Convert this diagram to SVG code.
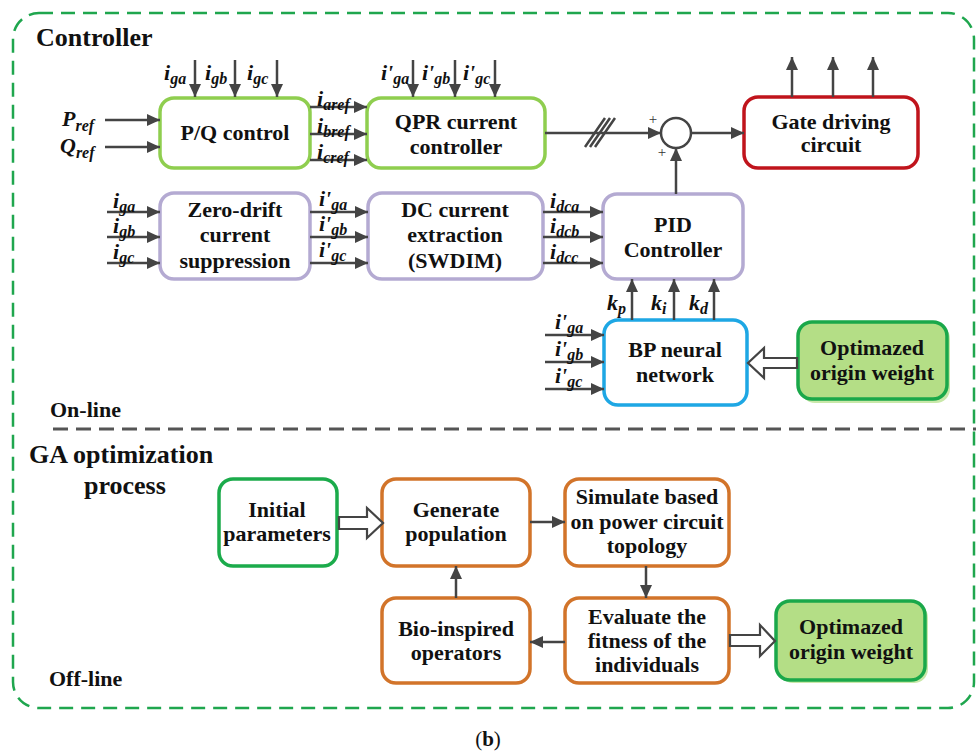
<svg xmlns="http://www.w3.org/2000/svg" width="976" height="753" viewBox="0 0 976 753">
<style>
.t{font-family:"Liberation Serif","Times New Roman",serif;font-weight:bold;font-size:22px;fill:#111;text-anchor:middle}
.h{font-family:"Liberation Serif","Times New Roman",serif;font-weight:bold;font-size:26px;fill:#111}
.s{font-family:"Liberation Serif","Times New Roman",serif;font-weight:bold;font-size:22px;fill:#111}
.m{font-family:"Liberation Serif","Times New Roman",serif;font-weight:bold;font-style:italic;font-size:22px;fill:#111}
.sb{font-size:16px}
.pl{font-family:"Liberation Serif","Times New Roman",serif;font-size:15px;fill:#333;text-anchor:middle}
.cap{font-family:"Liberation Serif","Times New Roman",serif;font-size:21px;fill:#111;text-anchor:middle}
.g{fill:#fff;stroke:#8fce4f;stroke-width:3.5}
.p{fill:#fff;stroke:#b4aad2;stroke-width:3.5}
.r{fill:#fff;stroke:#c0141c;stroke-width:3.5}
.b{fill:#fff;stroke:#1ea7e4;stroke-width:3.5}
.o{fill:#fff;stroke:#d2742a;stroke-width:3.5}
.dg{fill:#fff;stroke:#1bab4b;stroke-width:3.5}
.w{fill:#b4de86;stroke:#1aa84a;stroke-width:3.5}
.ws{fill:#c9e8a9;stroke:none}
.c line,.c path{stroke:#444;stroke-width:2.5;fill:none}
.c line.a{marker-end:url(#ah)}
.hol{fill:#fff;stroke:#444;stroke-width:2.2;stroke-linejoin:miter}
</style>
<defs>
<marker id="ah" markerUnits="userSpaceOnUse" markerWidth="14" markerHeight="14" refX="13" refY="7" orient="auto">
<path d="M0,1 L13,7 L0,13 Z" fill="#444"/>
</marker>
</defs>
<rect width="976" height="753" fill="#fff"/>
<!-- frames -->
<rect x="13" y="13" width="961" height="695" rx="26" fill="none" stroke="#1fa64e" stroke-width="2.5" stroke-dasharray="14 8"/>
<line x1="53" y1="429" x2="976" y2="429" stroke="#555" stroke-width="3" stroke-dasharray="15 8"/>
<text class="h" x="36" y="46">Controller</text>
<text class="s" x="50" y="417">On-line</text>
<text class="h" x="29" y="463">GA optimization</text>
<text class="h" x="84" y="494">process</text>
<text class="s" x="49" y="686">Off-line</text>
<text class="cap" x="488" y="746">(<tspan font-weight="bold">b</tspan>)</text>

<!-- nodes -->
<g id="pq"><rect class="g" x="160" y="98" width="150" height="70" rx="14"/><text class="t" x="235" y="140">P/Q control</text></g>
<g id="qpr"><rect class="g" x="367" y="98" width="178" height="70" rx="14"/><text class="t" x="456" y="129">QPR current</text><text class="t" x="456" y="154">controller</text></g>
<g id="gate"><rect class="r" x="744" y="97" width="174" height="71" rx="14"/><text class="t" x="831" y="129">Gate driving</text><text class="t" x="831" y="152">circuit</text></g>
<g id="sum"><circle cx="676" cy="133" r="15" fill="#fff" stroke="#444" stroke-width="2.5"/><text class="pl" x="653" y="124">+</text><text class="pl" x="662" y="157">+</text></g>
<g id="zero"><rect class="p" x="160" y="193" width="150" height="86" rx="14"/><text class="t" x="235" y="217">Zero-drift</text><text class="t" x="235" y="242">current</text><text class="t" x="235" y="268">suppression</text></g>
<g id="dc"><rect class="p" x="368" y="193" width="175" height="86" rx="14"/><text class="t" x="455" y="217">DC current</text><text class="t" x="455" y="242">extraction</text><text class="t" x="455" y="268">(SWDIM)</text></g>
<g id="pid"><rect class="p" x="603" y="194" width="140" height="85" rx="14"/><text class="t" x="673" y="232">PID</text><text class="t" x="673" y="257">Controller</text></g>
<g id="bp"><rect class="b" x="604" y="320" width="143" height="85" rx="14"/><text class="t" x="675" y="357">BP neural</text><text class="t" x="675" y="382">network</text></g>
<g id="ow1"><rect class="ws" x="801" y="325" width="149" height="78" rx="14"/><rect class="w" x="798" y="322" width="149" height="77" rx="14"/><text class="t" x="872" y="355">Optimazed</text><text class="t" x="872" y="380">origin weight</text></g>
<g id="init"><rect class="dg" x="219" y="479" width="118" height="87" rx="14"/><text class="t" x="277" y="517">Initial</text><text class="t" x="277" y="541">parameters</text></g>
<g id="gen"><rect class="o" x="382" y="479" width="148" height="87" rx="14"/><text class="t" x="456" y="517">Generate</text><text class="t" x="456" y="541">population</text></g>
<g id="sim"><rect class="o" x="565" y="479" width="164" height="87" rx="14"/><text class="t" x="647" y="504">Simulate based</text><text class="t" x="647" y="529">on power circuit</text><text class="t" x="647" y="553">topology</text></g>
<g id="bio"><rect class="o" x="382" y="598" width="148" height="85" rx="14"/><text class="t" x="456" y="636">Bio-inspired</text><text class="t" x="456" y="660">operators</text></g>
<g id="eval"><rect class="o" x="565" y="598" width="164" height="85" rx="14"/><text class="t" x="647" y="624">Evaluate the</text><text class="t" x="647" y="648">fitness of the</text><text class="t" x="647" y="672">individuals</text></g>
<g id="ow2"><rect class="ws" x="779" y="604" width="149" height="79" rx="14"/><rect class="w" x="776" y="601" width="149" height="79" rx="14"/><text class="t" x="851" y="634">Optimazed</text><text class="t" x="851" y="659">origin weight</text></g>

<!-- connectors -->
<g id="connectors" class="c">
<line class="a" x1="105" y1="120" x2="160" y2="120"/>
<line class="a" x1="105" y1="147" x2="160" y2="147"/>
<line class="a" x1="195" y1="60" x2="195" y2="97"/>
<line class="a" x1="235" y1="60" x2="235" y2="97"/>
<line class="a" x1="277" y1="60" x2="277" y2="97"/>
<line class="a" x1="413" y1="60" x2="413" y2="97"/>
<line class="a" x1="455" y1="60" x2="455" y2="97"/>
<line class="a" x1="495" y1="60" x2="495" y2="97"/>
<line class="a" x1="310" y1="107" x2="367" y2="107"/>
<line class="a" x1="310" y1="134" x2="367" y2="134"/>
<line class="a" x1="310" y1="160" x2="367" y2="160"/>
<line class="a" x1="545" y1="133" x2="661" y2="133"/>
<path d="M585,147 L605,118 M590,147 L610,118 M595,147 L615,118" stroke-width="2"/>
<line class="a" x1="691" y1="133" x2="744" y2="133"/>
<line class="a" x1="676" y1="194" x2="676" y2="148"/>
<line class="a" x1="792" y1="97" x2="792" y2="57"/>
<line class="a" x1="833" y1="97" x2="833" y2="57"/>
<line class="a" x1="873" y1="97" x2="873" y2="57"/>
<line class="a" x1="107" y1="212" x2="160" y2="212"/>
<line class="a" x1="107" y1="237" x2="160" y2="237"/>
<line class="a" x1="107" y1="263" x2="160" y2="263"/>
<line class="a" x1="310" y1="212" x2="368" y2="212"/>
<line class="a" x1="310" y1="237" x2="368" y2="237"/>
<line class="a" x1="310" y1="263" x2="368" y2="263"/>
<line class="a" x1="543" y1="212" x2="603" y2="212"/>
<line class="a" x1="543" y1="237" x2="603" y2="237"/>
<line class="a" x1="543" y1="263" x2="603" y2="263"/>
<line class="a" x1="632" y1="320" x2="632" y2="279"/>
<line class="a" x1="674" y1="320" x2="674" y2="279"/>
<line class="a" x1="714" y1="320" x2="714" y2="279"/>
<line class="a" x1="545" y1="335" x2="604" y2="335"/>
<line class="a" x1="545" y1="362" x2="604" y2="362"/>
<line class="a" x1="545" y1="389" x2="604" y2="389"/>
<line class="a" x1="530" y1="522" x2="565" y2="522"/>
<line class="a" x1="646" y1="566" x2="646" y2="598"/>
<line class="a" x1="565" y1="642" x2="530" y2="642"/>
<line class="a" x1="456" y1="598" x2="456" y2="566"/>
<path class="hol" d="M797,358 L764,358 L764,348 L748,363 L764,378 L764,368 L797,368 Z" style="fill:#fff;stroke-width:2.2"/>
<path class="hol" d="M339,517 L367,517 L367,508 L383,523 L367,538 L367,529 L339,529 Z" style="fill:#fff;stroke-width:2.2"/>
<path class="hol" d="M730,635 L760,635 L760,625 L775,641 L760,656 L760,646 L730,646 Z" style="fill:#fff;stroke-width:2.2"/>
</g>

<!-- labels -->
<g id="labels">
<text class="m" x="164" y="80">i<tspan class="sb" dy="4">ga</tspan></text>
<text class="m" x="205" y="80">i<tspan class="sb" dy="4">gb</tspan></text>
<text class="m" x="247" y="80">i<tspan class="sb" dy="4">gc</tspan></text>
<text class="m" x="62" y="126">P<tspan class="sb" dy="5">ref</tspan></text>
<text class="m" x="60" y="153">Q<tspan class="sb" dy="5">ref</tspan></text>
<text class="m" x="381" y="80">i'<tspan class="sb" dy="4">ga</tspan></text>
<text class="m" x="422" y="80">i'<tspan class="sb" dy="4">gb</tspan></text>
<text class="m" x="463" y="80">i'<tspan class="sb" dy="4">gc</tspan></text>
<text class="m" x="317" y="106">i<tspan class="sb" dy="4">aref</tspan></text>
<text class="m" x="317" y="133">i<tspan class="sb" dy="4">bref</tspan></text>
<text class="m" x="317" y="159">i<tspan class="sb" dy="4">cref</tspan></text>
<text class="m" x="113" y="208">i<tspan class="sb" dy="4">ga</tspan></text>
<text class="m" x="113" y="233">i<tspan class="sb" dy="4">gb</tspan></text>
<text class="m" x="113" y="259">i<tspan class="sb" dy="4">gc</tspan></text>
<text class="m" x="319" y="206">i'<tspan class="sb" dy="4">ga</tspan></text>
<text class="m" x="319" y="231">i'<tspan class="sb" dy="4">gb</tspan></text>
<text class="m" x="319" y="257">i'<tspan class="sb" dy="4">gc</tspan></text>
<text class="m" x="550" y="208">i<tspan class="sb" dy="4">dca</tspan></text>
<text class="m" x="550" y="233">i<tspan class="sb" dy="4">dcb</tspan></text>
<text class="m" x="550" y="259">i<tspan class="sb" dy="4">dcc</tspan></text>
<text class="m" x="607" y="310">k<tspan class="sb" dy="4">p</tspan></text>
<text class="m" x="651" y="310">k<tspan class="sb" dy="4">i</tspan></text>
<text class="m" x="689" y="310">k<tspan class="sb" dy="4">d</tspan></text>
<text class="m" x="555" y="329">i'<tspan class="sb" dy="4">ga</tspan></text>
<text class="m" x="555" y="356">i'<tspan class="sb" dy="4">gb</tspan></text>
<text class="m" x="555" y="383">i'<tspan class="sb" dy="4">gc</tspan></text>
</g>
</svg>
